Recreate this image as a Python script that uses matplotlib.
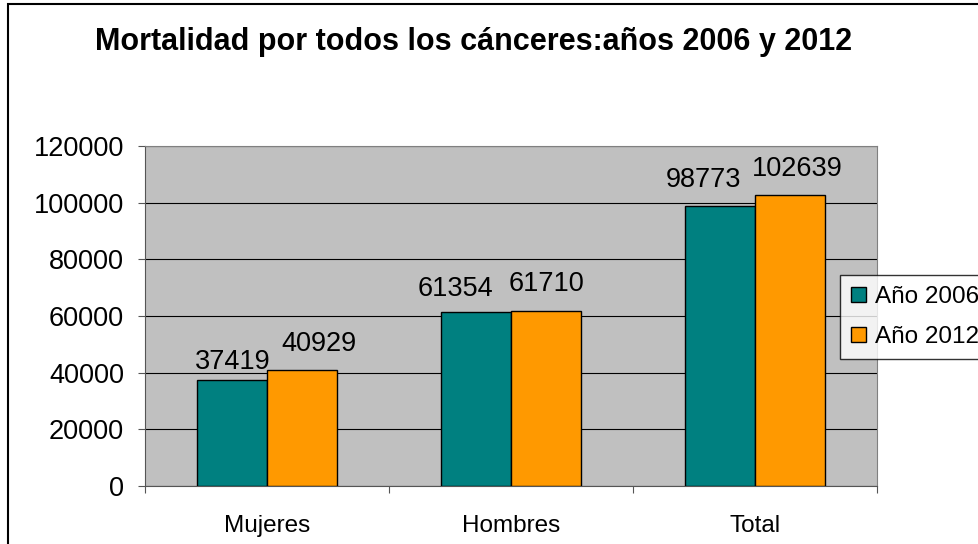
import numpy as np
import matplotlib.pyplot as plt
from matplotlib.patches import Rectangle

plt.rcParams['font.family'] = ['Liberation Sans', 'DejaVu Sans']

# datos
categorias = ['Mujeres', 'Hombres', 'Total']
anio_2006 = [37419, 61354, 98773]
anio_2012 = [40929, 61710, 102639]
series = ['Año 2006', 'Año 2012']
colores = ['#008080', '#FF9900']
yticks = [0, 20000, 40000, 60000, 80000, 100000, 120000]

# desplazamiento de etiquetas (pixeles), como en el original de Excel
desp_2006 = [(0, 11), (-21, 16), (-17, 19)]
desp_2012 = [(17, 19), (1, 20), (7, 19)]

fs = 19.5

fig = plt.figure(figsize=(9.79, 5.44), dpi=100)
ax = fig.add_axes([145 / 979, 1 - 486 / 544, 732 / 979, 340 / 544])

# marco exterior del grafico
fig.patches.append(Rectangle((8 / 979, -0.05), 1.0, 1 - 4 / 544 + 0.05,
                             transform=fig.transFigure, fill=False,
                             edgecolor='black', linewidth=1.5))

x = np.arange(len(categorias))
w = 0.285
b1 = ax.bar(x - w / 2, anio_2006, w, color=colores[0], edgecolor='black',
            linewidth=1, label=series[0], zorder=3)
b2 = ax.bar(x + w / 2, anio_2012, w, color=colores[1], edgecolor='black',
            linewidth=1, label=series[1], zorder=3)

for bars, desp in ((b1, desp_2006), (b2, desp_2012)):
    for r, d in zip(bars, desp):
        ax.annotate(str(int(r.get_height())),
                    (r.get_x() + r.get_width() / 2, r.get_height()),
                    xytext=d, textcoords='offset pixels',
                    ha='center', va='baseline', fontsize=fs)

ax.set_facecolor('#C0C0C0')
ax.set_xlim(-0.5, 2.5)
ax.set_ylim(0, 120000)
ax.set_yticks(yticks)
ax.set_yticklabels([str(t) for t in yticks], fontsize=fs)
ax.yaxis.grid(True, color='black', linewidth=0.8, zorder=0)
ax.set_axisbelow(True)
ax.set_xticks([-0.5, 0.5, 1.5, 2.5])
ax.set_xticklabels([])
ax.set_xticks(x, minor=True)
ax.set_xticklabels(categorias, minor=True, fontsize=17.5)
ax.tick_params(axis='x', which='minor', length=0, pad=21)
ax.tick_params(axis='x', which='major', length=5, direction='out', color='#555555')
ax.tick_params(axis='y', length=5, color='#555555', pad=10)
for s in ['top', 'right']:
    ax.spines[s].set_color('#808080')
for s in ['left', 'bottom']:
    ax.spines[s].set_color('#555555')

fig.text(474 / 979, 1 - 42 / 544, 'Mortalidad por todos los cánceres:años 2006 y 2012',
         ha='center', va='center', fontsize=22, fontweight='bold')

leg = fig.legend(loc='upper left', bbox_to_anchor=(840 / 979, 1 - 275 / 544),
                 fontsize=17.5, frameon=True, fancybox=False, edgecolor='black',
                 handlelength=0.6, handleheight=0.6, handletextpad=0.4,
                 borderpad=0.45, labelspacing=0.75, borderaxespad=0)
leg.get_frame().set_linewidth(1)

fig.savefig('out.png', dpi=100)
